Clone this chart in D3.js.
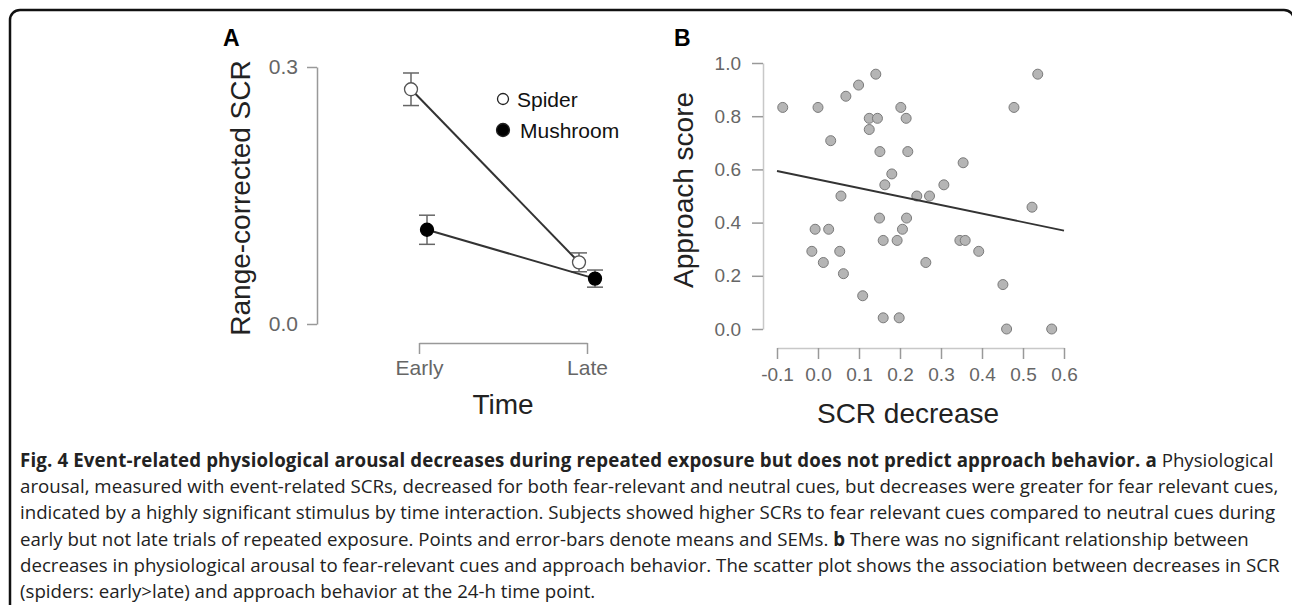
<!DOCTYPE html>
<head>
<meta charset="utf-8">
<title>Fig. 4 SCR and approach behavior</title>
<script src="https://d3js.org/d3.v7.min.js"></script>
<style>
body {
  margin: 0;
  background: #fff;
}

svg {
  font-family: "Liberation Sans", Arial, Helvetica, sans-serif;
}

.axis .domain {
  stroke: #999;
  stroke-width: 1.5px;
}

.axis .tick line {
  stroke: #999;
  stroke-width: 1.5px;
}

.axis text {
  fill: #666;
}

.b.axis .domain {
  stroke: #c8c8c8;
}

.title {
  fill: #222;
  font-size: 28px;
  text-anchor: middle;
}

.caption {
  font-family: "Open Sans", sans-serif;
  fill: #222;
}
</style>
</head>
<body>
<script>

// panel A: means and SEMs
const timeLabels = ["Early", "Late"];
const stimuli = ["Spider", "Mushroom"];
const spiderMean = [0.274, 0.072];
const spiderSem = [0.019, 0.011];
const mushroomMean = [0.110, 0.053];
const mushroomSem = [0.017, 0.010];
const scrTicks = [0.0, 0.3];

// panel B: one point per subject
const scrDecrease = [-0.086, 0.0, 0.068, 0.099, 0.141, 0.031, 0.125, 0.145, 0.125, 0.202, 0.215,
  0.151, 0.219, 0.180, 0.163, 0.056, 0.241, 0.272, 0.307, 0.354, 0.478, 0.536, 0.522, 0.150,
  0.216, 0.206, -0.007, 0.026, -0.015, 0.053, 0.013, 0.062, 0.159, 0.193, 0.346, 0.359, 0.392,
  0.263, 0.451, 0.109, 0.159, 0.198, 0.460, 0.570];
const approachScore = [0.833, 0.833, 0.875, 0.917, 0.958, 0.708, 0.792, 0.792, 0.750, 0.833, 0.792,
  0.667, 0.667, 0.583, 0.542, 0.500, 0.500, 0.500, 0.542, 0.625, 0.833, 0.958, 0.458, 0.417,
  0.417, 0.375, 0.375, 0.375, 0.292, 0.292, 0.250, 0.208, 0.333, 0.333, 0.333, 0.333, 0.292,
  0.250, 0.167, 0.125, 0.042, 0.042, 0.000, 0.000];
const fitX = [-0.1, 0.6];
const fitY = [0.594, 0.370];
const decreaseTicks = [-0.1, 0.0, 0.1, 0.2, 0.3, 0.4, 0.5, 0.6];
const approachTicks = [0.0, 0.2, 0.4, 0.6, 0.8, 1.0];

const captionLines = [
  [["Fig. 4 Event-related physiological arousal decreases during repeated exposure but does not predict approach behavior. a", true], [" Physiological", false]],
  [["arousal, measured with event-related SCRs, decreased for both fear-relevant and neutral cues, but decreases were greater for fear relevant cues,", false]],
  [["indicated by a highly significant stimulus by time interaction. Subjects showed higher SCRs to fear relevant cues compared to neutral cues during", false]],
  [["early but not late trials of repeated exposure. Points and error-bars denote means and SEMs. ", false], ["b", true], [" There was no significant relationship between", false]],
  [["decreases in physiological arousal to fear-relevant cues and approach behavior. The scatter plot shows the association between decreases in SCR", false]],
  [["(spiders: early>late) and approach behavior at the 24-h time point.", false]]
];

const width = 1292,
  height = 605;

const svg = d3.select('body').append('svg')
  .attr('width', width)
  .attr('height', height);

// frame round the figure
svg.append('rect')
  .attr('x', 10)
  .attr('y', 10)
  .attr('width', 1284)
  .attr('height', 640)
  .attr('rx', 10)
  .style('fill', 'none')
  .style('stroke', '#111')
  .style('stroke-width', 2.5);

const fmt = d => d.toFixed(1);

// ---------- panel A ----------
const xA = d3.scalePoint().domain(timeLabels).range([419, 587]);
const dodge = d3.scalePoint().domain(stimuli).range([-8, 8]);
const yA = d3.scaleLinear().domain([0, 0.3]).range([324, 67]);

svg.append('text')
  .attr('x', 223)
  .attr('y', 46)
  .style('font-size', '23px')
  .style('font-weight', 'bold')
  .text('A');

svg.append('g')
  .attr('class', 'a axis')
  .attr('transform', 'translate(317,0)')
  .call(d3.axisLeft(yA).tickValues(scrTicks).tickFormat(fmt).tickSize(10).tickSizeOuter(0).tickPadding(9))
  .selectAll('text').style('font-size', '21px');

svg.append('g')
  .attr('class', 'a axis')
  .attr('transform', 'translate(0,343)')
  .call(d3.axisBottom(xA).tickSize(11).tickSizeOuter(0).tickPadding(6))
  .selectAll('text').style('font-size', '21px');

svg.append('text')
  .attr('class', 'title')
  .attr('transform', 'translate(250,198) rotate(-90)')
  .text('Range-corrected SCR');

svg.append('text')
  .attr('class', 'title')
  .attr('x', 503)
  .attr('y', 414)
  .text('Time');

let groups = [
  {name: 'Spider', mean: spiderMean, sem: spiderSem, fill: '#fff'},
  {name: 'Mushroom', mean: mushroomMean, sem: mushroomSem, fill: '#000'}
];

groups.forEach(g => {
  let pts = timeLabels.map((t, i) => ({x: xA(t) + dodge(g.name), m: g.mean[i], s: g.sem[i]}));

  svg.append('path')
    .datum(pts)
    .attr('d', d3.line().x(d => d.x).y(d => yA(d.m)))
    .style('fill', 'none')
    .style('stroke', '#333')
    .style('stroke-width', 2);

  let bars = svg.append('g').selectAll('g')
    .data(pts)
    .enter().append('g')
      .style('stroke', '#666')
      .style('stroke-width', 1.5);
  bars.append('line')
    .attr('x1', d => d.x).attr('x2', d => d.x)
    .attr('y1', d => yA(d.m - d.s)).attr('y2', d => yA(d.m + d.s));
  bars.append('line')
    .attr('x1', d => d.x - 8).attr('x2', d => d.x + 8)
    .attr('y1', d => yA(d.m + d.s)).attr('y2', d => yA(d.m + d.s));
  bars.append('line')
    .attr('x1', d => d.x - 8).attr('x2', d => d.x + 8)
    .attr('y1', d => yA(d.m - d.s)).attr('y2', d => yA(d.m - d.s));

  svg.append('g').selectAll('circle')
    .data(pts)
    .enter().append('circle')
      .attr('cx', d => d.x)
      .attr('cy', d => yA(d.m))
      .attr('r', 6.5)
      .style('fill', g.fill)
      .style('stroke', g.name == 'Spider' ? '#555' : '#000')
      .style('stroke-width', 1.3);
});

// legend
let legend = svg.append('g')
  .selectAll('g')
  .data(groups)
  .enter().append('g')
    .attr('transform', (d, i) => 'translate(503,' + (99 + i * 31) + ')');

legend.append('circle')
  .attr('r', (d, i) => i == 0 ? 5.5 : 6.5)
  .style('fill', d => d.fill)
  .style('stroke', '#222')
  .style('stroke-width', 1.3);

legend.append('text')
  .attr('x', (d, i) => i == 0 ? 14 : 17)
  .attr('dy', '0.36em')
  .style('font-size', '21px')
  .style('fill', '#111')
  .text(d => d.name);

// ---------- panel B ----------
const xB = d3.scaleLinear().domain([-0.1, 0.6]).range([777, 1064]);
const yB = d3.scaleLinear().domain([0, 1]).range([329, 63]);

svg.append('text')
  .attr('x', 674)
  .attr('y', 46)
  .style('font-size', '23px')
  .style('font-weight', 'bold')
  .text('B');

svg.append('g')
  .attr('class', 'b axis')
  .attr('transform', 'translate(763,0)')
  .call(d3.axisLeft(yB).tickValues(approachTicks).tickFormat(fmt).tickSize(11).tickSizeOuter(0).tickPadding(11))
  .selectAll('text').style('font-size', '19px');

svg.append('g')
  .attr('class', 'b axis')
  .attr('transform', 'translate(0,348)')
  .call(d3.axisBottom(xB).tickValues(decreaseTicks).tickFormat(fmt).tickSize(11).tickSizeOuter(0).tickPadding(9))
  .selectAll('text').style('font-size', '19px');

svg.append('text')
  .attr('class', 'title')
  .attr('transform', 'translate(693,190) rotate(-90)')
  .text('Approach score');

svg.append('text')
  .attr('class', 'title')
  .attr('x', 908)
  .attr('y', 423)
  .text('SCR decrease');

let points = scrDecrease.map((d, i) => ({x: d, y: approachScore[i]}));

svg.append('g')
  .selectAll('circle')
  .data(points)
  .enter().append('circle')
    .attr('cx', d => xB(d.x))
    .attr('cy', d => yB(d.y))
    .attr('r', 5)
    .style('fill', '#b5b5b5')
    .style('stroke', '#7a7a7a')
    .style('stroke-width', 1);

svg.append('path')
  .datum(fitX.map((d, i) => [d, fitY[i]]))
  .attr('d', d3.line().x(d => xB(d[0])).y(d => yB(d[1])))
  .style('fill', 'none')
  .style('stroke', '#333')
  .style('stroke-width', 1.8);

// ---------- caption ----------
let caption = svg.append('g')
  .attr('class', 'caption');

let capText = caption.selectAll('text')
  .data(captionLines)
  .enter().append('text')
    .attr('x', 20)
    .attr('y', (d, i) => 467 + i * 26.2)
    .style('font-size', '16px');

capText.selectAll('tspan')
  .data(d => d)
  .enter().append('tspan')
    .style('font-weight', d => d[1] ? 'bold' : 'normal')
    .style('letter-spacing', d => d[1] ? '0.15px' : null)
    .style('white-space', 'pre')
    .text(d => d[0]);

// fit the caption font so the third line fills the box like in the figure
let probe = capText.nodes()[2].getComputedTextLength();
capText.style('font-size', (16 * 1256 / probe) + 'px');

</script>
</body>
